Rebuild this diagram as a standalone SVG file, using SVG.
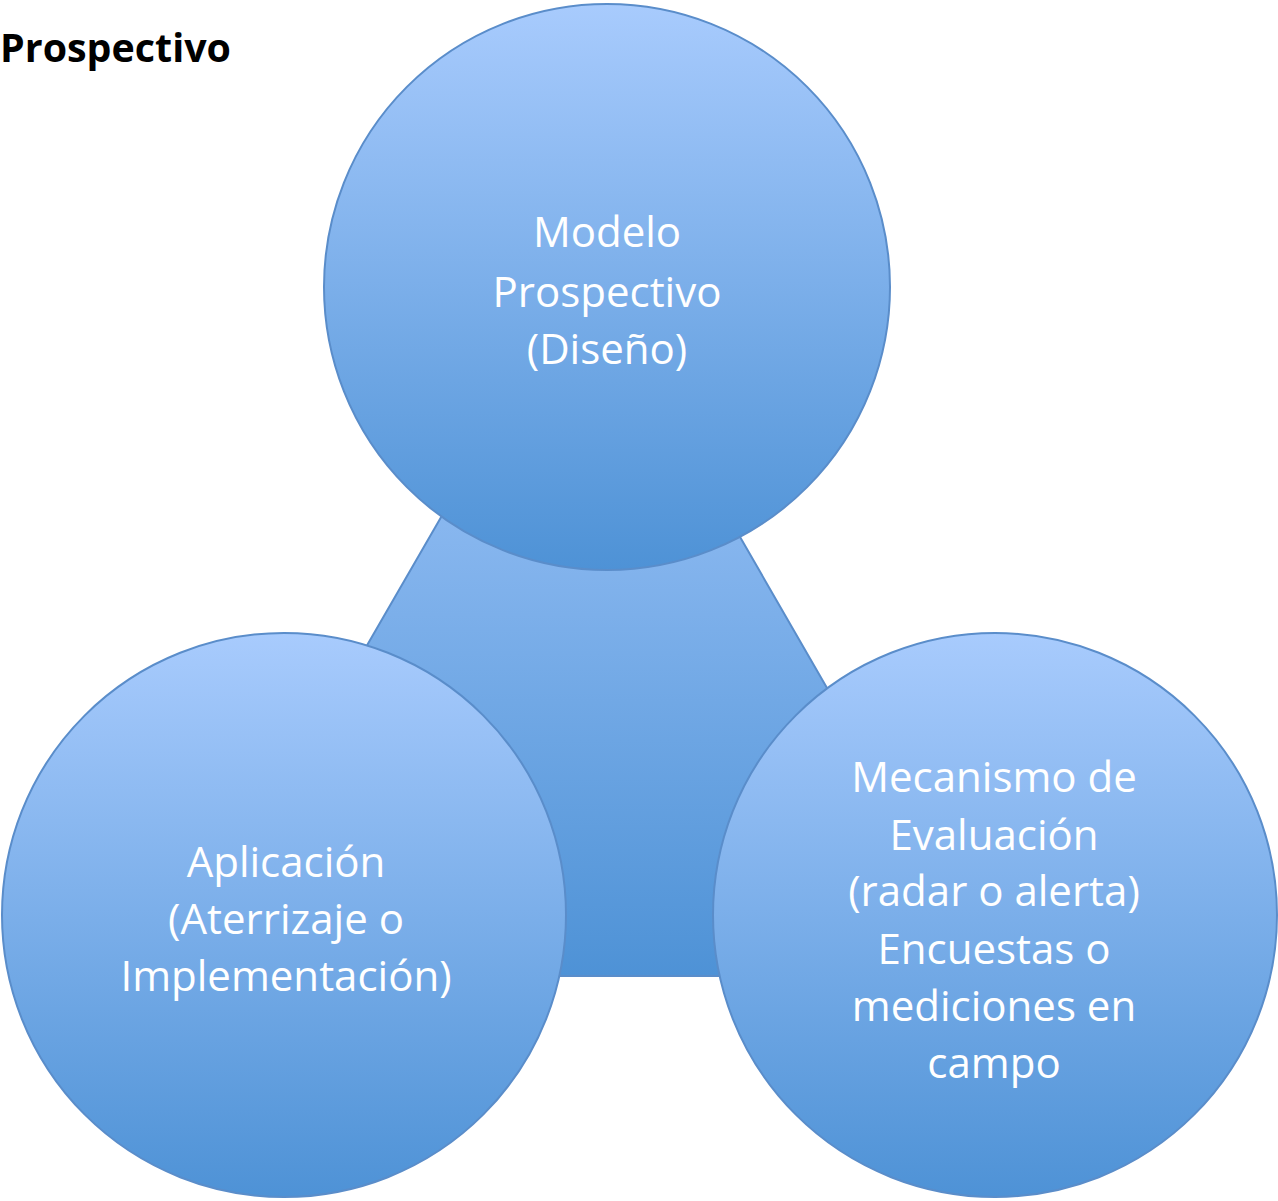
<svg xmlns="http://www.w3.org/2000/svg" width="1278" height="1201" viewBox="0 0 1278 1201">
  <defs>
    <linearGradient id="g" x1="0" y1="0" x2="0" y2="1">
      <stop offset="0" stop-color="#A8CBFD"/>
      <stop offset="1" stop-color="#4E92D6"/>
    </linearGradient>
    <style>
      .shape { fill: url(#g); stroke: #5A8DCA; stroke-width: 2; }
      .lbl { font-family: "Open Sans", "Liberation Sans", sans-serif; font-size: 42px; fill: #FFFFFF; text-anchor: middle; }
      .title { font-family: "Open Sans", "Liberation Sans", sans-serif; font-size: 39px; font-weight: bold; fill: #000000; }
    </style>
  </defs>
  <rect width="1278" height="1201" fill="#FFFFFF"/>
  <text class="title" x="0" y="62" textLength="231" lengthAdjust="spacingAndGlyphs">Prospectivo</text>
  <g id="connectors">
    <polygon id="triangle" class="shape" points="585,268 993,976 176,976"/>
  </g>
  <g id="node-top">
    <circle class="shape" cx="607" cy="287" r="283"/>
    <text class="lbl" x="607" y="247">Modelo</text>
    <text class="lbl" x="607" y="307">Prospectivo</text>
    <text class="lbl" x="607" y="364">(Diseño)</text>
  </g>
  <g id="node-left">
    <circle class="shape" cx="284" cy="915" r="282"/>
    <text class="lbl" x="286" y="877">Aplicación</text>
    <text class="lbl" x="286" y="934">(Aterrizaje o</text>
    <text class="lbl" x="286" y="991">Implementación)</text>
  </g>
  <g id="node-right">
    <circle class="shape" cx="995" cy="915" r="282"/>
    <text class="lbl" x="994" y="792">Mecanismo de</text>
    <text class="lbl" x="994" y="850">Evaluación</text>
    <text class="lbl" x="994" y="906">(radar o alerta)</text>
    <text class="lbl" x="994" y="964">Encuestas o</text>
    <text class="lbl" x="994" y="1021">mediciones en</text>
    <text class="lbl" x="994" y="1078">campo</text>
  </g>
</svg>
